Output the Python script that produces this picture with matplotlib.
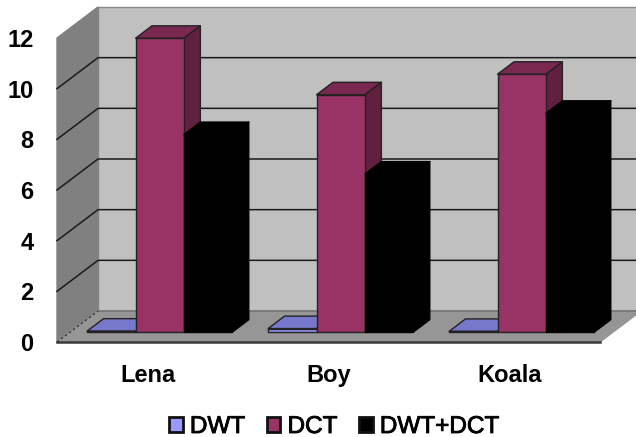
"""3D-style clustered column chart of the DWT, DCT and DWT+DCT scores per test image."""

import matplotlib

matplotlib.use("Agg")

import matplotlib.patheffects as path_effects
import matplotlib.pyplot as plt
from matplotlib.patches import Patch, Polygon

images = ["Lena", "Boy", "Koala"]
dwt_values = [0.04, 0.14, 0.03]
dct_values = [11.6, 9.37, 10.18]
combined_values = [7.8, 6.24, 8.64]
y_ticks = [0, 2, 4, 6, 8, 10, 12]

series = [
    ("DWT", dwt_values, "#9999ff", "#7777cc", "#5c5c99", "#222222"),
    ("DCT", dct_values, "#993366", "#7a284f", "#61203f", "#222222"),
    ("DWT+DCT", combined_values, "#000000", "#000000", "#000000", "#000000"),
]

# oblique offset of the full chart depth, in data units
DEPTH_X = 41 / 181
DEPTH_Y = 31 / 25.33
BAR_WIDTH = 0.2675
BAR_GAP = 0.094
BAR_NEAR = 0.32
BAR_FAR = 0.72

plt.rcParams["font.family"] = ["Liberation Sans", "DejaVu Sans"]


def project(x, y, depth):
    return (x + depth * DEPTH_X, y + depth * DEPTH_Y)


def add_face(ax, points, color, edge="#222222", lw=1.0, zorder=2):
    ax.add_patch(Polygon(points, closed=True, facecolor=color, edgecolor=edge,
                         linewidth=lw, clip_on=False, zorder=zorder, joinstyle="round"))


def draw_bar(ax, left, height, front, top, side, edge, zorder):
    right = left + BAR_WIDTH
    add_face(ax, [project(left, height, BAR_NEAR), project(right, height, BAR_NEAR),
                  project(right, height, BAR_FAR), project(left, height, BAR_FAR)], top, edge, zorder=zorder)
    add_face(ax, [project(right, 0, BAR_NEAR), project(right, height, BAR_NEAR),
                  project(right, height, BAR_FAR), project(right, 0, BAR_FAR)], side, edge, zorder=zorder)
    add_face(ax, [project(left, 0, BAR_NEAR), project(right, 0, BAR_NEAR),
                  project(right, height, BAR_NEAR), project(left, height, BAR_NEAR)], front, edge, zorder=zorder)


fig = plt.figure(figsize=(6.36, 4.37), dpi=100)
ax = fig.add_axes([57 / 636, (437 - 342) / 437, 543 / 636, 304 / 437])
ax.set_xlim(0, len(images))
ax.set_ylim(0, 12)
for spine in ax.spines.values():
    spine.set_visible(False)
ax.patch.set_visible(False)

top = y_ticks[-1]
n = len(images)

# walls and floor
add_face(ax, [project(0, 0, 1), project(n, 0, 1), project(n, top, 1), project(0, top, 1)],
         "#c0c0c0", edge="#8a8a8a", zorder=1)
add_face(ax, [project(0, 0, 0), project(0, 0, 1), project(0, top, 1), project(0, top, 0)],
         "#808080", edge="#808080", zorder=1)

for tick in y_ticks[1:-1]:
    xs, ys = zip(project(0, tick, 0), project(0, tick, 1), project(n, tick, 1))
    ax.plot(xs, ys, color="#1a1a1a", lw=1.1, clip_on=False, zorder=1.5)

add_face(ax, [project(0, 0, 0), project(n, 0, 0), project(n, 0, 1), project(0, 0, 1)],
         "#969696", edge="#969696", zorder=1.6)
xs, ys = zip(project(0, 0, 1), project(n, 0, 1))
ax.plot(xs, ys, color="#757575", lw=1.2, clip_on=False, zorder=1.65)
xs, ys = zip(project(0, 0, 0), project(0, 0, 1))
ax.plot(xs, ys, color="#333333", lw=0.9, ls=(0, (2, 2)), clip_on=False, zorder=1.65)
ax.plot([0, n], [0, 0], color="#3a3a3a", lw=1.8, clip_on=False, zorder=1.7)

# columns, left to right so nearer faces overlap correctly
order = 2
for i in range(n):
    for j, (name, values, front, top_face, side, edge) in enumerate(series):
        draw_bar(ax, i + BAR_GAP + j * BAR_WIDTH, values[i], front, top_face, side, edge, order)
        order += 1

ax.set_xticks([i + 0.5 for i in range(n)], images, fontsize=17, fontweight="bold")
ax.set_yticks(y_ticks, [str(t) for t in y_ticks], fontsize=17, fontweight="bold")
ax.tick_params(axis="x", length=0, pad=15.5)
ax.tick_params(axis="y", length=0, pad=17)

handles = [Patch(facecolor=s[2], edgecolor="#111111", linewidth=2, label=s[0]) for s in series]
legend = fig.legend(handles=handles, loc="center", bbox_to_anchor=(334 / 636, 10 / 437), ncols=3,
                    frameon=False, fontsize=17.5, handlelength=0.55, handleheight=0.55,
                    handletextpad=0.3, columnspacing=0.9, borderpad=0, borderaxespad=0)
for label in legend.get_texts():
    label.set_path_effects([path_effects.withStroke(linewidth=0.6, foreground="black")])

fig.savefig("out.png", dpi=100)
